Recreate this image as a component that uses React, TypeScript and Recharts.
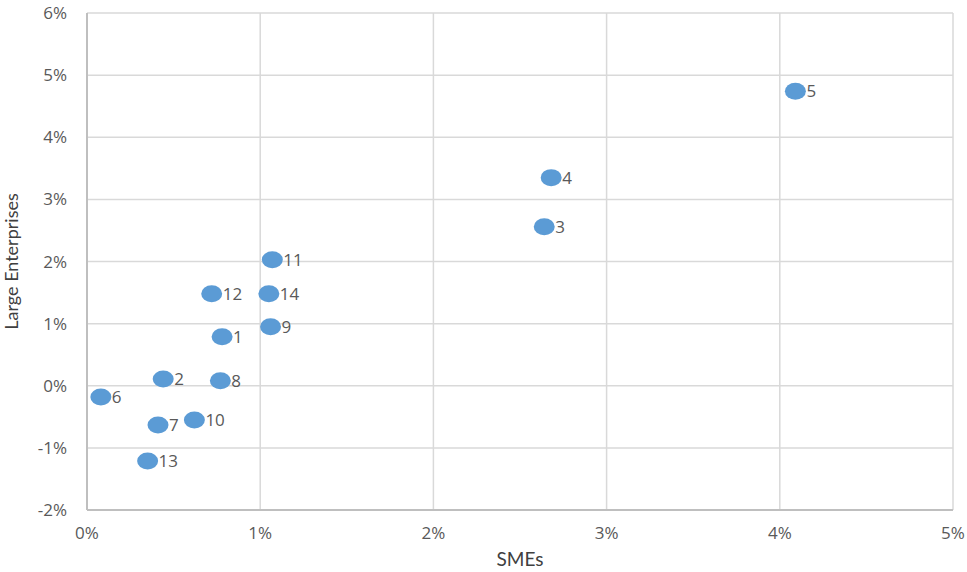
import React from "react";
import { ScatterChart, Scatter, XAxis, YAxis, CartesianGrid } from "recharts";

const pointLabels = ["1", "2", "3", "4", "5", "6", "7", "8", "9", "10", "11", "12", "13", "14"];
const smeValues = [0.78, 0.44, 2.64, 2.68, 4.09, 0.08, 0.41, 0.77, 1.06, 0.62, 1.07, 0.72, 0.35, 1.05];
const largeValues = [0.79, 0.11, 2.56, 3.35, 4.74, -0.18, -0.63, 0.08, 0.95, -0.55, 2.03, 1.48, -1.21, 1.48];
const xTicks = [0, 1, 2, 3, 4, 5];
const yTicks = [-2, -1, 0, 1, 2, 3, 4, 5, 6];

const data = pointLabels.map((name, i) => ({ name, x: smeValues[i], y: largeValues[i] }));

const FONT = "'Open Sans', 'DejaVu Sans', sans-serif";
const TITLE_FONT = "Lato, 'Open Sans', sans-serif";

const PointShape = (props: any) => {
  const { cx, cy, payload } = props;
  return (
    <g>
      <ellipse cx={cx} cy={cy} rx={10.5} ry={8.5} fill="#5B9BD5" />
      <text x={cx + 11} y={cy} dy={6} fontSize={17} fill="#595959" fontFamily={FONT}>
        {payload.name}
      </text>
    </g>
  );
};

export default function App() {
  return (
    <div style={{ position: "absolute", left: 0, top: 0, background: "#fff" }}>
      <ScatterChart width={967} height={572} margin={{ top: 13, right: 14, bottom: 0, left: 0 }}>
        <CartesianGrid stroke="#d9d9d9" strokeWidth={1.5} />
        <XAxis
          type="number"
          dataKey="x"
          domain={[0, 5]}
          ticks={xTicks}
          tickFormatter={(v: number) => `${v}%`}
          height={62}
          tickLine={false}
          axisLine={{ stroke: "#bfbfbf", strokeWidth: 2 }}
          tick={{ fill: "#595959", fontSize: 17, fontFamily: FONT }}
          tickMargin={11}
          label={{ value: "SMEs", position: "insideBottom", offset: 6, fill: "#404040", fontSize: 19, fontFamily: TITLE_FONT }}
        />
        <YAxis
          type="number"
          dataKey="y"
          domain={[-2, 6]}
          ticks={yTicks}
          tickFormatter={(v: number) => `${v}%`}
          width={87}
          tickLine={false}
          axisLine={{ stroke: "#bfbfbf", strokeWidth: 2 }}
          tick={{ fill: "#595959", fontSize: 17, fontFamily: FONT }}
          tickMargin={14}
          label={{ value: "Large Enterprises", angle: -90, position: "insideLeft", offset: 12, fill: "#404040", fontSize: 18, fontFamily: TITLE_FONT, style: { textAnchor: "middle" } }}
        />
        <Scatter data={data} shape={<PointShape />} isAnimationActive={false} />
      </ScatterChart>
    </div>
  );
}
